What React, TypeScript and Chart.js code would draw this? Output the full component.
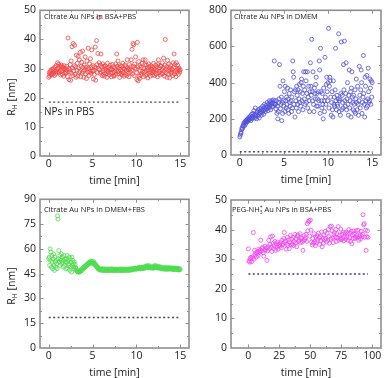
import React, { useEffect, useRef } from "react";
import { Chart, registerables } from "chart.js";
Chart.register(...registerables);

const FONT = "'Open Sans', 'DejaVu Sans', sans-serif";
const FRAME = "#8f8f8f";
const TEXT = "#1a1a1a";

// ---------- data ----------
const TIME_MIN = [
  0,0.05,0.1,0.15,0.2,0.25,0.3,0.35,0.4,0.45,0.5,0.55,0.6,0.65,0.7,0.75,0.8,0.85,0.9,0.95,
  1,1.05,1.1,1.15,1.2,1.25,1.3,1.35,1.4,1.45,1.5,1.55,1.6,1.65,1.7,1.75,1.8,1.85,1.9,1.95,
  2,2.05,2.1,2.15,2.2,2.25,2.3,2.35,2.4,2.45,2.5,2.55,2.6,2.65,2.7,2.75,2.8,2.85,2.9,2.95,
  3,3.05,3.1,3.15,3.2,3.25,3.3,3.35,3.4,3.45,3.5,3.55,3.6,3.65,3.7,3.75,3.8,3.85,3.9,3.95,
  4,4.05,4.1,4.15,4.2,4.25,4.3,4.35,4.4,4.45,4.5,4.55,4.6,4.65,4.7,4.75,4.8,4.85,4.9,4.95,
  5,5.05,5.1,5.15,5.2,5.25,5.3,5.35,5.4,5.45,5.5,5.55,5.6,5.65,5.7,5.75,5.8,5.85,5.9,5.95,
  6,6.05,6.1,6.15,6.2,6.25,6.3,6.35,6.4,6.45,6.5,6.55,6.6,6.65,6.7,6.75,6.8,6.85,6.9,6.95,
  7,7.05,7.1,7.15,7.2,7.25,7.3,7.35,7.4,7.45,7.5,7.55,7.6,7.65,7.7,7.75,7.8,7.85,7.9,7.95,
  8,8.05,8.1,8.15,8.2,8.25,8.3,8.35,8.4,8.45,8.5,8.55,8.6,8.65,8.7,8.75,8.8,8.85,8.9,8.95,
  9,9.05,9.1,9.15,9.2,9.25,9.3,9.35,9.4,9.45,9.5,9.55,9.6,9.65,9.7,9.75,9.8,9.85,9.9,9.95,
  10,10.05,10.1,10.15,10.2,10.25,10.3,10.35,10.4,10.45,10.5,10.55,10.6,10.65,10.7,10.75,10.8,10.85,10.9,10.95,
  11,11.05,11.1,11.15,11.2,11.25,11.3,11.35,11.4,11.45,11.5,11.55,11.6,11.65,11.7,11.75,11.8,11.85,11.9,11.95,
  12,12.05,12.1,12.15,12.2,12.25,12.3,12.35,12.4,12.45,12.5,12.55,12.6,12.65,12.7,12.75,12.8,12.85,12.9,12.95,
  13,13.05,13.1,13.15,13.2,13.25,13.3,13.35,13.4,13.45,13.5,13.55,13.6,13.65,13.7,13.75,13.8,13.85,13.9,13.95,
  14,14.05,14.1,14.15,14.2,14.25,14.3,14.35,14.4,14.45,14.5,14.55,14.6,14.65,14.7,14.75,14.8,14.85,14.9,14.95,
  15,
];

const RH_BSA_PBS = [
  27.0,28.5,27.5,29.0,28.0,29.5,28.2,27.8,29.8,28.6,30.0,28.4,29.2,27.6,30.5,29.0,28.2,31.0,29.6,28.8,
  32.0,30.2,29.0,31.5,28.6,30.8,29.4,27.8,30.6,31.2,29.2,28.0,30.4,29.8,27.4,31.0,29.6,28.4,30.2,29.0,
  28.6,30.8,29.4,27.2,40.5,30.0,26.2,28.8,29.6,31.4,26.0,32.6,28.4,37.5,30.2,27.6,38.6,29.2,31.0,38.0,
  28.0,30.6,27.0,34.6,29.4,31.8,27.4,34.2,30.2,28.6,33.0,29.0,35.6,27.2,30.8,32.2,28.4,36.0,30.4,29.0,
  27.0,31.2,29.6,34.0,28.2,30.4,26.6,32.6,29.8,28.8,37.0,30.2,27.6,31.6,29.0,33.4,28.4,30.6,36.4,29.2,
  29.0,31.0,26.4,29.4,28.0,30.6,37.4,26.0,30.2,39.6,31.4,28.6,35.2,30.0,47.5,32.0,29.6,28.4,31.2,35.0,
  28.8,30.6,27.6,31.6,29.2,28.0,30.8,27.4,29.8,31.0,28.2,30.2,29.4,27.0,31.8,29.0,28.6,30.4,27.8,29.6,
  31.2,28.4,30.0,27.2,29.6,31.4,28.6,30.6,27.6,27.4,29.0,30.2,28.0,31.6,29.4,35.0,30.8,28.8,32.6,29.2,
  28.2,30.4,27.0,31.0,29.6,28.4,30.8,27.8,29.2,31.8,28.6,30.0,27.4,29.8,31.2,28.0,30.6,29.4,27.6,33.0,
  30.2,28.4,29.6,27.2,31.4,29.8,28.8,30.6,33.0,29.4,36.6,28.2,38.6,30.8,38.2,27.6,31.6,30.2,34.0,29.8,
  28.6,26.2,39.0,30.6,25.8,32.4,27.4,26.6,31.0,29.2,27.8,30.4,28.4,31.8,29.0,33.0,27.2,30.0,28.8,31.4,
  33.0,27.6,29.4,31.2,28.0,30.2,26.8,29.6,31.6,28.4,30.6,29.0,27.4,31.0,29.8,28.6,30.4,27.8,29.2,31.8,
  28.8,30.0,27.6,29.6,31.2,28.2,30.6,29.4,27.2,31.4,33.0,28.6,30.2,29.0,27.8,31.0,30.8,28.4,29.6,32.0,
  28.2,30.4,33.6,29.0,27.4,31.2,40.0,29.8,28.6,30.6,27.0,32.8,29.4,28.0,31.6,30.2,26.8,29.2,31.0,28.4,
  30.0,28.8,29.6,27.6,32.0,30.4,35.0,28.2,31.4,29.0,27.2,32.0,29.6,28.6,31.2,29.8,28.0,30.2,29.4,28.8,
  29.6,
];

const RH_DMEM = [
  100,110,120,125,140,150,145,160,165,175,160,180,185,170,190,180,195,185,200,190,
  205,195,210,200,215,190,205,225,200,215,230,210,245,220,205,260,215,225,200,235,
  240,215,250,225,205,255,230,240,260,220,250,235,270,245,225,260,280,250,240,265,
  275,255,290,265,245,280,260,300,270,290,250,280,300,265,290,270,305,285,520,300,
  280,280,255,300,230,270,200,240,290,310,500,380,255,280,320,190,290,230,410,300,
  270,350,240,380,300,260,320,280,370,250,310,230,340,290,270,360,300,240,320,260,
  520,460,430,280,350,210,360,300,260,380,330,280,360,240,310,390,290,350,270,400,
  420,300,340,250,380,460,310,360,280,460,410,290,340,460,260,320,380,300,240,350,
  510,380,330,640,350,300,460,280,240,370,340,310,390,430,270,340,310,270,350,300,
  520,470,230,590,350,300,260,340,280,200,370,300,240,540,320,280,390,430,350,300,
  400,700,260,380,430,410,320,220,290,350,250,210,410,280,320,270,360,590,300,250,
  330,280,270,310,670,240,300,310,220,340,625,250,330,290,260,500,360,630,300,270,
  340,510,250,310,400,280,220,330,470,260,300,350,210,370,460,320,290,250,330,280,
  240,360,230,310,420,290,250,380,280,220,300,490,330,260,360,470,400,230,290,320,
  550,340,280,210,430,380,300,260,440,270,310,480,350,290,300,420,370,280,410,320,
  400,
];

const RH_DMEM_FBS = [
  54,55,50,60,53,58,49,56,52,48,54,57,50,47,55,52,49,53,51,48,
  80,78,54,59,52,56,50,54,53,57,51,55,52,49,53,56,50,54,52,48,
  54,52,56,48,53,51,50,55,47,54,49,52,46,55,50,53,51,49,52,48,
  50.5,48.8,48.2,47.1,46.5,46.9,46.2,46.0,45.8,46.3,46.6,46.1,46.9,46.4,47.2,47.6,47.0,47.9,48.1,48.6,
  48.3,49.0,48.8,49.6,49.2,49.9,50.4,50.0,50.8,50.3,51.0,51.6,50.9,51.8,51.3,52.2,52.6,51.9,51.4,52.0,
  51.8,51.2,52.4,51.6,50.9,50.4,51.0,50.2,49.4,49.8,49.1,48.4,48.9,48.1,47.6,48.0,47.3,47.8,47.1,47.4,
  47.6,48.0,47.2,46.8,47.4,47.9,47.1,47.5,46.9,47.8,47.3,47.0,47.7,46.8,47.2,47.5,47.9,47.1,46.9,47.4,
  47.2,47.8,47.0,47.4,47.9,47.3,46.8,47.1,47.7,47.4,47.0,46.9,47.5,47.8,47.2,47.0,47.6,47.3,46.9,47.2,
  47.4,47.8,47.1,47.3,46.8,47.2,47.9,47.4,47.0,46.9,47.3,47.5,47.8,47.2,46.9,47.3,47.1,47.7,47.4,47.0,
  47.2,47.5,47.8,46.9,47.3,47.6,48.0,47.4,47.1,47.5,47.9,47.6,47.3,48.1,47.7,48.2,47.6,48.0,48.3,47.8,
  48.2,47.8,48.4,48.1,47.9,48.5,48.8,48.3,48.0,47.9,48.4,48.9,48.2,48.7,48.5,48.1,48.9,48.4,49.0,48.3,
  49.2,48.6,49.4,49.8,48.8,49.1,48.5,49.3,50.0,48.7,49.2,48.6,49.0,48.4,48.8,49.2,48.5,48.9,48.3,48.6,
  49.4,48.5,49.2,50.0,49.1,48.6,49.3,48.4,48.8,49.5,48.6,49.0,48.3,48.7,49.2,48.5,48.8,47.9,48.4,48.6,
  48.2,47.8,48.5,48.1,47.7,48.4,48.0,48.8,48.3,47.6,48.1,47.9,48.4,48.6,47.7,48.2,47.8,48.3,48.5,47.9,
  48.3,47.6,48.4,47.9,47.5,48.2,47.7,48.5,47.8,47.4,48.1,47.6,48.3,47.8,47.3,48.0,47.5,47.2,48.1,47.6,
  47.4,
];

const TIME_PEG = [
  0,0.5,1,1.5,2,2.5,3,3.5,4,4.5,5,5.5,6,6.5,7,7.5,8,8.5,9,9.5,
  10,10.5,11,11.5,12,12.5,13,13.5,14,14.5,15,15.5,16,16.5,17,17.5,18,18.5,19,19.5,
  20,20.5,21,21.5,22,22.5,23,23.5,24,24.5,25,25.5,26,26.5,27,27.5,28,28.5,29,29.5,
  30,30.5,31,31.5,32,32.5,33,33.5,34,34.5,35,35.5,36,36.5,37,37.5,38,38.5,39,39.5,
  40,40.5,41,41.5,42,42.5,43,43.5,44,44.5,45,45.5,46,46.5,47,47.5,48,48.5,49,49.5,
  50,50.5,51,51.5,52,52.5,53,53.5,54,54.5,55,55.5,56,56.5,57,57.5,58,58.5,59,59.5,
  60,60.5,61,61.5,62,62.5,63,63.5,64,64.5,65,65.5,66,66.5,67,67.5,68,68.5,69,69.5,
  70,70.5,71,71.5,72,72.5,73,73.5,74,74.5,75,75.5,76,76.5,77,77.5,78,78.5,79,79.5,
  80,80.5,81,81.5,82,82.5,83,83.5,84,84.5,85,85.5,86,86.5,87,87.5,88,88.5,89,89.5,
  90,90.5,91,91.5,92,92.5,93,93.5,94,94.5,95,95.5,96,96.5,
];

const RH_PEG_BSA_PBS = [
  33.5,29.4,29.0,30.2,30.6,29.2,30.8,30.4,39.0,30.0,
  33.0,31.4,32.2,30.8,31.8,32.6,31.2,33.4,32.4,33.0,
  36.4,32.8,33.6,34.0,32.2,31.0,33.0,34.4,33.2,33.8,
  29.6,32.8,34.2,36.4,33.6,35.0,37.6,34.0,32.6,37.8,
  35.4,33.6,34.6,36.0,33.0,35.2,34.2,35.8,33.4,34.6,
  35.0,34.4,35.6,33.8,36.4,34.8,35.2,37.0,39.0,35.6,
  36.2,33.4,35.0,37.4,34.6,36.6,33.6,35.8,38.0,34.8,
  36.8,35.2,37.4,34.6,36.0,38.4,35.4,36.8,34.2,37.8,
  38.2,36.0,36.4,38.6,35.6,37.2,37.0,35.8,33.0,36.4,
  38.0,36.6,37.2,38.4,36.0,42.0,39.6,42.6,43.0,37.8,
  43.2,39.8,35.8,34.8,37.0,35.4,38.6,36.0,34.6,37.4,
  35.6,38.0,36.4,38.8,37.2,35.0,37.6,36.2,39.2,34.2,
  37.0,35.4,38.2,36.6,39.4,37.0,35.8,38.8,36.4,40.0,
  37.6,35.4,41.0,36.8,41.2,39.6,37.2,35.6,38.2,39.0,
  37.4,40.0,36.0,38.6,37.2,41.0,36.4,38.0,37.0,40.2,
  36.6,38.4,37.0,39.0,36.2,37.4,38.8,36.8,39.2,37.6,
  38.6,36.4,40.0,37.2,38.8,36.0,39.4,35.2,38.2,37.0,
  39.6,38.6,37.0,37.4,39.6,38.0,37.2,39.8,36.4,37.6,
  38.2,36.8,39.4,37.6,38.4,45.0,41.6,42.0,37.4,39.8,
  33.0,37.6,39.6,37.4,
];

// reference levels (NPs in PBS) and their time spans
const PBS_LEVEL_BSA = 18.5;
const PBS_LEVEL_DMEM = 18;
const PBS_LEVEL_FBS = 18.5;
const PBS_LEVEL_PEG = 25;
const PBS_SPAN_MIN = [0, 15];
const PBS_SPAN_PEG = [0, 96.5];

// tick values
const X_TICKS_MIN = [0, 5, 10, 15];
const X_MINOR_MIN = [2.5, 7.5, 12.5];
const X_TICKS_PEG = [0, 25, 50, 75, 100];
const X_MINOR_PEG = [12.5, 37.5, 62.5, 87.5];
const Y_TICKS_50 = [0, 10, 20, 30, 40, 50];
const Y_MINOR_50 = [5, 15, 25, 35, 45];
const Y_TICKS_800 = [0, 200, 400, 600, 800];
const Y_MINOR_800 = [100, 300, 500, 700];
const Y_TICKS_90 = [0, 15, 30, 45, 60, 75, 90];
const Y_MINOR_90 = [7.5, 22.5, 37.5, 52.5, 67.5, 82.5];

// ---------- rich text ----------
type Run = { t: string; sub?: string; sup?: string };

function richWidth(ctx: CanvasRenderingContext2D, runs: Run[], size: number) {
  let w = 0;
  for (const r of runs) {
    ctx.font = `${size}px ${FONT}`;
    w += ctx.measureText(r.t).width;
    ctx.font = `${size * 0.65}px ${FONT}`;
    const a = r.sub ? ctx.measureText(r.sub).width : 0;
    const b = r.sup ? ctx.measureText(r.sup).width : 0;
    w += Math.max(a, b);
  }
  return w;
}

function drawRich(ctx: CanvasRenderingContext2D, runs: Run[], x: number, y: number, size: number) {
  let cx = x;
  ctx.textBaseline = "middle";
  ctx.textAlign = "left";
  for (const r of runs) {
    ctx.font = `${size}px ${FONT}`;
    ctx.fillText(r.t, cx, y);
    cx += ctx.measureText(r.t).width;
    ctx.font = `${size * 0.65}px ${FONT}`;
    let adv = 0;
    if (r.sub) {
      ctx.fillText(r.sub, cx, y + size * 0.32);
      adv = Math.max(adv, ctx.measureText(r.sub).width);
    }
    if (r.sup) {
      ctx.fillText(r.sup, cx, y - size * 0.38);
      adv = Math.max(adv, ctx.measureText(r.sup).width);
    }
    cx += adv;
  }
}

type Note = { runs: Run[]; x: number; y: number; size: number };

interface PanelDef {
  left: number; top: number; w: number; h: number;
  L: number; R: number; T: number; H: number;
  xs: number[]; ys: number[]; color: string;
  xMin: number; xMax: number; yMin: number; yMax: number;
  xTicks: number[]; xMinor: number[]; yTicks: number[]; yMinor: number[];
  pbs: number; pbsSpan: number[]; pbsColor: string;
  notes: Note[]; yTitle: boolean;
}

const PANELS: PanelDef[] = [
  {
    left: 0, top: 0, w: 196, h: 189, L: 40, R: 7, T: 7, H: 33,
    xs: TIME_MIN, ys: RH_BSA_PBS, color: "rgba(240,70,70,0.9)",
    xMin: -1, xMax: 16, yMin: 0, yMax: 50,
    xTicks: X_TICKS_MIN, xMinor: X_MINOR_MIN, yTicks: Y_TICKS_50, yMinor: Y_MINOR_50,
    pbs: PBS_LEVEL_BSA, pbsSpan: PBS_SPAN_MIN, pbsColor: "#4a4a4a",
    notes: [
      { runs: [{ t: "Citrate Au NPs in BSA+PBS" }], x: 44, y: 17, size: 7.5 },
      { runs: [{ t: "NPs in PBS" }], x: 44, y: 112, size: 10 },
    ],
    yTitle: true,
  },
  {
    left: 196, top: 0, w: 195, h: 189, L: 35, R: 10, T: 6, H: 34,
    xs: TIME_MIN, ys: RH_DMEM, color: "rgba(80,80,215,0.9)",
    xMin: -1, xMax: 16, yMin: 0, yMax: 800,
    xTicks: X_TICKS_MIN, xMinor: X_MINOR_MIN, yTicks: Y_TICKS_800, yMinor: Y_MINOR_800,
    pbs: PBS_LEVEL_DMEM, pbsSpan: PBS_SPAN_MIN, pbsColor: "#4a4a7a",
    notes: [{ runs: [{ t: "Citrate Au NPs in DMEM" }], x: 38, y: 17, size: 7.5 }],
    yTitle: false,
  },
  {
    left: 0, top: 189, w: 196, h: 189, L: 40, R: 7, T: 10, H: 30,
    xs: TIME_MIN, ys: RH_DMEM_FBS, color: "rgba(80,220,80,0.9)",
    xMin: -1, xMax: 16, yMin: 0, yMax: 90,
    xTicks: X_TICKS_MIN, xMinor: X_MINOR_MIN, yTicks: Y_TICKS_90, yMinor: Y_MINOR_90,
    pbs: PBS_LEVEL_FBS, pbsSpan: PBS_SPAN_MIN, pbsColor: "#4a4a4a",
    notes: [{ runs: [{ t: "Citrate Au NPs in DMEM+FBS" }], x: 44, y: 21, size: 7.5 }],
    yTitle: true,
  },
  {
    left: 196, top: 189, w: 195, h: 189, L: 35, R: 10, T: 11, H: 30,
    xs: TIME_PEG, ys: RH_PEG_BSA_PBS, color: "rgba(240,70,240,0.9)",
    xMin: -14, xMax: 107, yMin: 0, yMax: 50,
    xTicks: X_TICKS_PEG, xMinor: X_MINOR_PEG, yTicks: Y_TICKS_50, yMinor: Y_MINOR_50,
    pbs: PBS_LEVEL_PEG, pbsSpan: PBS_SPAN_PEG, pbsColor: "#3a3aa8",
    notes: [
      { runs: [{ t: "PEG-NH", sub: "3", sup: "+" }, { t: " Au NPs in BSA+PBS" }], x: 36, y: 21, size: 7.5 },
    ],
    yTitle: false,
  },
];

function makeDecor(d: PanelDef) {
  return {
    id: "decor",
    beforeDatasetsDraw(chart: any) {
      const { ctx, chartArea: a, scales } = chart;
      const xs = scales.x, ys = scales.y;
      ctx.save();
      ctx.strokeStyle = FRAME;
      ctx.lineWidth = 1;
      const seg = (x1: number, y1: number, x2: number, y2: number) => {
        ctx.beginPath(); ctx.moveTo(x1, y1); ctx.lineTo(x2, y2); ctx.stroke();
      };
      const xt = (vals: number[], len: number) => vals.forEach((v) => {
        const p = Math.round(xs.getPixelForValue(v)) + 0.5;
        seg(p, a.bottom, p, a.bottom - len); seg(p, a.top, p, a.top + len);
      });
      const yt = (vals: number[], len: number) => vals.forEach((v) => {
        const p = Math.round(ys.getPixelForValue(v)) + 0.5;
        seg(a.left, p, a.left + len, p); seg(a.right, p, a.right - len, p);
      });
      xt(d.xTicks.filter((v) => v > d.xMin && v < d.xMax), 3.5);
      xt(d.xMinor, 2);
      yt(d.yTicks.filter((v) => v > d.yMin && v < d.yMax), 3.5);
      yt(d.yMinor, 2);
      ctx.lineWidth = 1.6;
      ctx.strokeRect(a.left, a.top, a.right - a.left, a.bottom - a.top);
      ctx.restore();
    },
    afterDraw(chart: any) {
      const { ctx, chartArea: a } = chart;
      ctx.save();
      ctx.fillStyle = TEXT;
      for (const n of d.notes) drawRich(ctx, n.runs, n.x, n.y, n.size);
      ctx.font = `10.5px ${FONT}`;
      ctx.textAlign = "center";
      ctx.textBaseline = "middle";
      ctx.fillText("time [min]", (a.left + a.right) / 2, a.bottom + 25);
      if (d.yTitle) {
        const runs: Run[] = [{ t: "R", sub: "H" }, { t: " [nm]" }];
        ctx.translate(12, 97);
        ctx.rotate(-Math.PI / 2);
        const w = richWidth(ctx, runs, 10.5);
        drawRich(ctx, runs, -w / 2, 0, 10.5);
      }
      ctx.restore();
    },
  };
}

function Panel({ d }: { d: PanelDef }) {
  const ref = useRef<HTMLCanvasElement>(null);
  useEffect(() => {
    const tickFont = { family: FONT, size: 10.5 };
    const chart = new Chart(ref.current as HTMLCanvasElement, {
      type: "scatter",
      data: {
        datasets: [
          {
            type: "scatter",
            data: d.xs.map((x, i) => ({ x, y: d.ys[i] })),
            pointRadius: 2,
            pointBorderWidth: 0.9,
            borderColor: d.color,
            backgroundColor: "rgba(0,0,0,0)",
            pointHoverRadius: 2,
          } as any,
          {
            type: "line",
            data: d.pbsSpan.map((x) => ({ x, y: d.pbs })),
            showLine: true,
            borderColor: d.pbsColor,
            borderWidth: 1.4,
            borderDash: [2, 2.4],
            pointRadius: 0,
            fill: false,
          } as any,
        ],
      },
      options: {
        responsive: false,
        animation: false,
        events: [],
        layout: { padding: { left: 0, right: d.R, top: d.T, bottom: 0 } },
        plugins: { legend: { display: false }, tooltip: { enabled: false } },
        scales: {
          x: {
            type: "linear", min: d.xMin, max: d.xMax,
            grid: { display: false, drawTicks: false },
            border: { display: false },
            ticks: { font: tickFont, color: TEXT, padding: 2, maxRotation: 0, autoSkip: false },
            afterBuildTicks: (s: any) => { s.ticks = d.xTicks.map((v) => ({ value: v })); },
            afterFit: (s: any) => { s.height = d.H; },
          },
          y: {
            type: "linear", min: d.yMin, max: d.yMax,
            grid: { display: false, drawTicks: false },
            border: { display: false },
            ticks: { font: tickFont, color: TEXT, padding: 4, autoSkip: false },
            afterBuildTicks: (s: any) => { s.ticks = d.yTicks.map((v) => ({ value: v })); },
            afterFit: (s: any) => { s.width = d.L; },
          },
        },
      } as any,
      plugins: [makeDecor(d)],
    });
    return () => chart.destroy();
  }, []);
  return (
    <div style={{ position: "absolute", left: d.left, top: d.top, width: d.w, height: d.h }}>
      <canvas ref={ref} width={d.w} height={d.h} style={{ width: d.w, height: d.h, display: "block" }} />
    </div>
  );
}

export default function App() {
  return (
    <div style={{ position: "absolute", left: 0, top: 0, width: 391, height: 378, background: "#fff" }}>
      {PANELS.map((d, i) => <Panel key={i} d={d} />)}
    </div>
  );
}
